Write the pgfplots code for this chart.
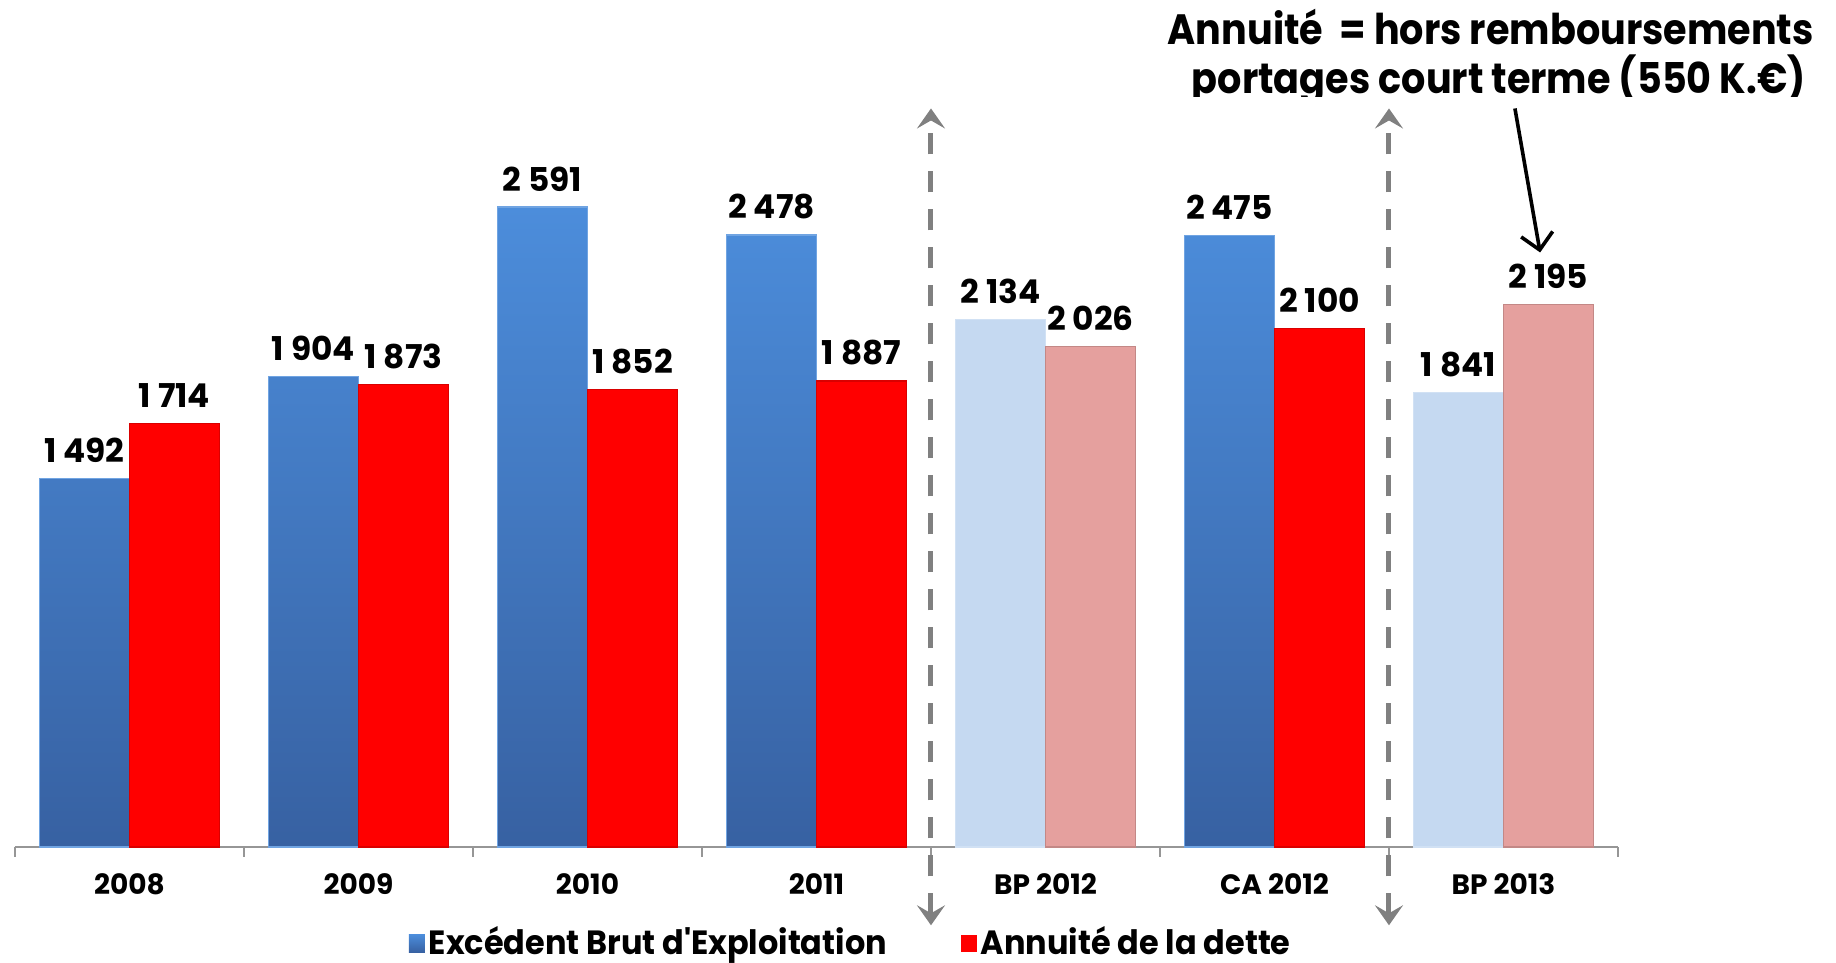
\documentclass[border=0pt]{standalone}
\usepackage{pgfplots}
\pgfplotsset{compat=1.18}
\usepackage{fontspec}
\setmainfont{Poppins}
\newfontfamily\narrowfont{Poppins}[FakeStretch=0.95]
\newfontfamily\annotfont{Poppins}[FakeStretch=0.9]
\usetikzlibrary{arrows.meta}
\definecolor{bluetop}{RGB}{76,141,219}
\definecolor{bluebot}{RGB}{55,97,162}
\definecolor{redbar}{RGB}{255,0,0}
\definecolor{lightblue}{RGB}{197,217,241}
\definecolor{pinkbar}{RGB}{229,160,158}
\definecolor{axgray}{RGB}{150,150,150}
\definecolor{dashgray}{RGB}{128,128,128}
\begin{document}
\begin{tikzpicture}
\begin{axis}[
  at={(3.75pt,29pt)}, anchor=south west,
  scale only axis, width=400.75pt, height=185.25pt,
  xmin=-0.5, xmax=6.5, ymin=0, ymax=3000,
  axis y line=none, axis x line*=bottom,
  x axis line style={axgray, line width=0.6pt},
  xtick={0,...,6},
  xticklabels={2008,2009,2010,2011,BP 2012,CA 2012,BP 2013},
  minor xtick={-0.5,0.5,...,6.5},
  major tick length=0pt, minor tick length=2.5pt, tick align=outside,
  every minor tick/.style={axgray, line width=0.6pt},
  xticklabel style={font=\bfseries\fontsize{7}{8}\selectfont, anchor=center, yshift=-9.25pt},
  ybar=0pt, bar width=22.5pt,
  clip=false,
  nodes near coords, point meta=explicit symbolic,
  nodes near coords style={font=\bfseries\fontsize{8.2}{9}\selectfont, anchor=south, inner sep=0pt, yshift=3.8pt, text=black},
  legend columns=2,
  legend style={at={(0.522,-0.13)}, anchor=center, draw=none, fill=none,
    font=\narrowfont\bfseries\fontsize{8.4}{9}\selectfont,
    /tikz/every even column/.append style={column sep=17.5pt},
    nodes={inner sep=1pt}},
  legend image code/.code={\path[#1, draw=none] (0pt,-2.2pt) rectangle (4pt,2.2pt);},
]
% dark blue: Excédent Brut d'Exploitation
\addplot[bar shift=-11.25pt, top color=bluetop, bottom color=bluebot, draw=bluetop!80!white, line width=0.3pt]
  coordinates {(0,1492) [1 492] (1,1904) [1 904] (2,2591) [2 591] (3,2478) [2 478] (5,2475) [2 475]};
\addlegendentry{Excédent Brut d'Exploitation}
% red: Annuité de la dette
\addplot[bar shift=11.25pt, fill=redbar, draw=redbar!85!black, line width=0.3pt]
  coordinates {(0,1714) [1 714] (1,1873) [1 873] (2,1852) [1 852] (3,1887) [1 887] (5,2100) [2 100]};
\addlegendentry{Annuité de la dette}
% light (budget) bars
\addplot[forget plot, bar shift=-11.25pt, fill=lightblue, draw=lightblue!80!white, line width=0.3pt]
  coordinates {(4,2134) [2 134] (6,1841) [1 841]};
\addplot[forget plot, bar shift=11.25pt, fill=pinkbar, draw=pinkbar!85!black, line width=0.3pt]
  coordinates {(4,2026) [2 026] (6,2195) [2 195]};
% dashed separators
\draw[dashgray, line width=1.25pt, dash pattern=on 5.2pt off 4.3pt,
  {Stealth[length=5pt,width=7pt,inset=2pt]}-{Stealth[length=5pt,width=7pt,inset=2pt]}]
  (axis cs:3.5,-317) -- (axis cs:3.5,2990);
\draw[dashgray, line width=1.25pt, dash pattern=on 5.2pt off 4.3pt,
  {Stealth[length=5pt,width=7pt,inset=2pt]}-{Stealth[length=5pt,width=7pt,inset=2pt]}]
  (axis cs:5.5,-317) -- (axis cs:5.5,2990);
% annotation arrow
\draw[black, line width=0.9pt, -{Straight Barb[length=4pt,width=8pt]}]
  (axis cs:6.05,2990) -- (axis cs:6.16,2407);
\end{axis}
\node[font=\annotfont\bfseries\fontsize{10.6}{13}\selectfont, anchor=base, inner sep=0pt]
  at (372.7pt,229.5pt) {Annuité\ \ = hors remboursements};
\begin{scope}
\clip (240pt,216.5pt) rectangle (459pt,235pt);
\node[font=\annotfont\bfseries\fontsize{10.6}{13}\selectfont, anchor=base, inner sep=0pt]
  at (374.7pt,217.3pt) {portages court terme (550 K.€)};
\end{scope}
\pgfresetboundingbox
\useasboundingbox (0,0) rectangle (459pt,240.75pt);
\end{tikzpicture}
\end{document}
